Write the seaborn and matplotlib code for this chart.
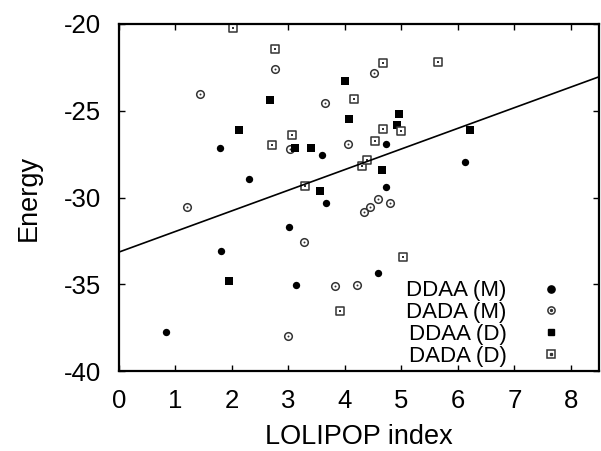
import numpy as np
import matplotlib
matplotlib.use('Agg')
import matplotlib.pyplot as plt
from matplotlib.lines import Line2D
from matplotlib.legend_handler import HandlerTuple
import seaborn as sns

# data
ddaa_m_x = [0.84, 1.78, 1.81, 2.30, 3.01, 3.14, 3.60, 3.66, 4.59, 4.73, 4.72, 6.12]
ddaa_m_y = [-37.77, -27.15, -33.07, -28.95, -31.72, -35.06, -27.53, -30.34, -34.35, -26.92, -29.41, -27.95]

dada_m_x = [1.20, 1.43, 2.77, 2.99, 3.03, 3.27, 3.65, 3.82, 4.06, 4.22, 4.33, 4.45, 4.52, 4.58, 4.79]
dada_m_y = [-30.55, -24.03, -22.60, -37.98, -27.19, -32.58, -24.57, -35.10, -26.94, -35.06, -30.85, -30.55, -22.80, -30.09, -30.34]

ddaa_d_x = [1.94, 2.12, 2.67, 3.12, 3.39, 3.56, 4.00, 4.07, 4.66, 4.92, 4.95, 6.22]
ddaa_d_y = [-34.81, -26.13, -24.40, -27.13, -27.17, -29.63, -23.30, -25.46, -28.43, -25.84, -25.20, -26.11]

dada_d_x = [2.02, 2.71, 2.76, 3.07, 3.29, 3.92, 4.16, 4.31, 4.39, 4.53, 4.68, 4.68, 4.99, 5.03, 5.65]
dada_d_y = [-20.25, -26.97, -21.46, -26.42, -29.34, -36.52, -24.34, -28.18, -27.84, -26.74, -22.27, -26.03, -26.19, -33.45, -22.19]

fit_x = [0.0, 8.5]
fit_intercept = -33.14
fit_slope = 1.188

labels = ['DDAA (M)', 'DADA (M)', 'DDAA (D)', 'DADA (D)']

sns.set_style('ticks')
plt.rcParams['font.family'] = ['Liberation Sans', 'DejaVu Sans']
plt.rcParams['axes.unicode_minus'] = False
plt.rcParams['text.color'] = 'black'
plt.rcParams['axes.labelcolor'] = 'black'

fig = plt.figure(figsize=(6.01, 4.51), dpi=100)
ax = fig.add_axes([0.198, 0.177, 0.799, 0.770])

fit_y = [fit_intercept + fit_slope * v for v in fit_x]
sns.lineplot(x=fit_x, y=fit_y, color='black', linewidth=1.2, ax=ax)

# filled circles
sns.scatterplot(x=ddaa_m_x, y=ddaa_m_y, marker='o', s=28, color='black',
                linewidth=0, ax=ax)
# open circles with a dot
sns.scatterplot(x=dada_m_x, y=dada_m_y, marker='o', s=30, facecolor='white',
                edgecolor='#333333', linewidth=1.1, ax=ax)
sns.scatterplot(x=dada_m_x, y=dada_m_y, marker='o', s=2, color='#333333',
                linewidth=0, ax=ax)
# filled squares
sns.scatterplot(x=ddaa_d_x, y=ddaa_d_y, marker='s', s=26, color='black',
                linewidth=0, ax=ax)
# open squares with a dot
sns.scatterplot(x=dada_d_x, y=dada_d_y, marker='s', s=34, facecolor='white',
                edgecolor='#333333', linewidth=1.1, ax=ax)
sns.scatterplot(x=dada_d_x, y=dada_d_y, marker='s', s=2, color='#333333',
                linewidth=0, ax=ax)

ax.set_xlim(0, 8.5)
ax.set_ylim(-40, -20)
ax.set_xticks(range(0, 9))
ax.set_yticks([-40, -35, -30, -25, -20])
ax.tick_params(direction='in', length=4.3, width=1.0, top=True, right=True,
               labelsize=18.5, pad=13, colors='black')
for sp in ax.spines.values():
    sp.set_linewidth(1.6)
    sp.set_color('black')
ax.set_xlabel('LOLIPOP index', fontsize=19.5, labelpad=8)
ax.set_ylabel('Energy', fontsize=19.5, labelpad=16)

handles = [
    Line2D([], [], linestyle='none', marker='o', markersize=5.2, color='black'),
    (Line2D([], [], linestyle='none', marker='o', markersize=5.2, markerfacecolor='white',
            markeredgecolor='#333333', markeredgewidth=1.1),
     Line2D([], [], linestyle='none', marker='o', markersize=1.4, color='#333333')),
    Line2D([], [], linestyle='none', marker='s', markersize=5.0, color='black'),
    (Line2D([], [], linestyle='none', marker='s', markersize=5.6, markerfacecolor='white',
            markeredgecolor='#333333', markeredgewidth=1.1),
     Line2D([], [], linestyle='none', marker='s', markersize=1.4, color='#333333')),
]
leg = ax.legend(handles, labels, loc='lower right', markerfirst=False, frameon=False,
                fontsize=16, handlelength=1.0, handletextpad=1.5, labelspacing=0.04,
                borderpad=0, borderaxespad=0, bbox_to_anchor=(0.923, 0.012),
                labelcolor='black', handler_map={tuple: HandlerTuple(ndivide=1)})

fig.savefig('out.png', dpi=100)
